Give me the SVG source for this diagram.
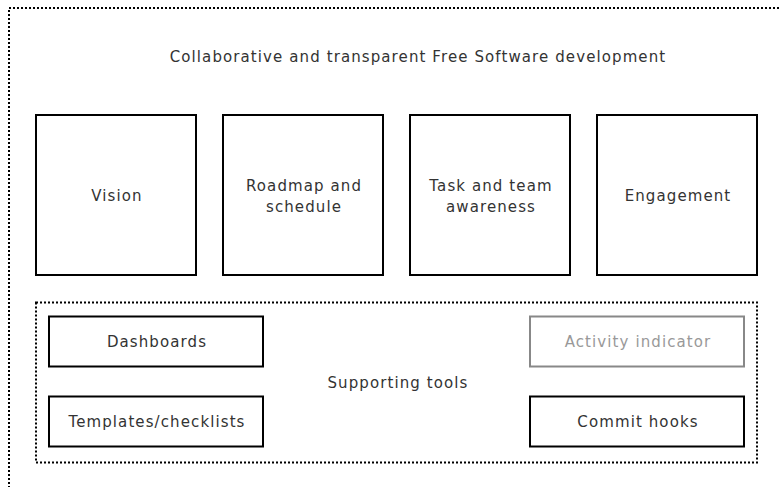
<svg xmlns="http://www.w3.org/2000/svg" width="779" height="487" viewBox="0 0 779 487">
<style>
text{font-family:"DejaVu Sans","Noto Sans",sans-serif;font-size:15px;letter-spacing:1.1px;fill:#333;text-anchor:middle}
.box{fill:#fff;stroke:#000;stroke-width:2}
.dim{fill:#fff;stroke:#888;stroke-width:2}
.dimt{fill:#999}
.dot{fill:none;stroke:#000;stroke-width:2;stroke-dasharray:2,2}
</style>
<rect width="779" height="487" fill="#fff"/>
<rect class="dot" x="9" y="8" width="800" height="500"/>
<text x="418" y="62">Collaborative and transparent Free Software development</text>
<g id="vision"><rect class="box" x="36" y="115" width="160" height="160"/><text x="117" y="201">Vision</text></g>
<g id="roadmap"><rect class="box" x="223" y="115" width="160" height="160"/><text x="304" y="191">Roadmap and</text><text x="304" y="212">schedule</text></g>
<g id="task"><rect class="box" x="410" y="115" width="160" height="160"/><text x="491" y="191">Task and team</text><text x="491" y="212">awareness</text></g>
<g id="engagement"><rect class="box" x="597" y="115" width="160" height="160"/><text x="678" y="201">Engagement</text></g>
<g id="supporting"><rect class="dot" x="36" y="302.5" width="721" height="160"/><text x="398" y="388">Supporting tools</text></g>
<g id="dashboards"><rect class="box" x="49" y="316.5" width="214" height="50"/><text x="157" y="346.5">Dashboards</text></g>
<g id="templates"><rect class="box" x="49" y="396.5" width="214" height="50"/><text x="157" y="426.5">Templates/checklists</text></g>
<g id="activity"><rect class="dim" x="530" y="316.5" width="214" height="50"/><text class="dimt" x="638" y="346.5">Activity indicator</text></g>
<g id="commit"><rect class="box" x="530" y="396.5" width="214" height="50"/><text x="638" y="426.5">Commit hooks</text></g>
<g id="connectors"></g>
</svg>
